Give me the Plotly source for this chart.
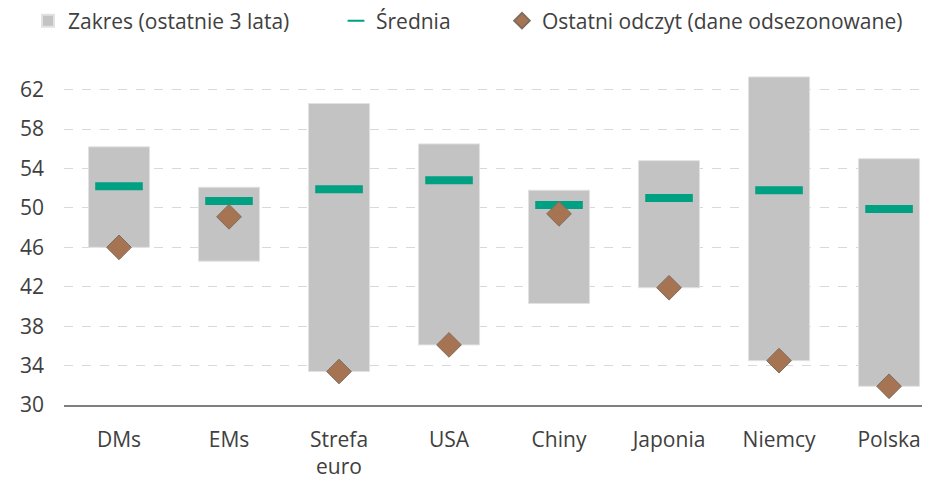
import plotly.graph_objects as go

categories = ['DMs', 'EMs', 'Strefa<br>euro', 'USA', 'Chiny', 'Japonia', 'Niemcy', 'Polska']
range_low = [46.0, 44.6, 33.4, 36.1, 40.3, 41.9, 34.5, 31.9]
range_high = [56.2, 52.1, 60.6, 56.5, 51.8, 54.8, 63.3, 55.0]
average = [52.2, 50.7, 51.9, 52.8, 50.3, 51.0, 51.8, 49.9]
latest = [46.0, 49.1, 33.4, 36.1, 49.4, 41.9, 34.5, 31.9]
y_ticks = [30, 34, 38, 42, 46, 50, 54, 58, 62]

FONT = 'Open Sans'
TXT = '#404040'
W, H = 930, 477

fig = go.Figure()

fig.add_trace(go.Bar(
    x=categories,
    y=[h - l for h, l in zip(range_high, range_low)],
    base=range_low,
    width=0.555,
    marker=dict(color='#c3c3c3', line=dict(color='#e2e2e2', width=1)),
    name='Zakres (ostatnie 3 lata)',
    legend='legend',
))

fig.add_trace(go.Scatter(
    x=categories,
    y=average,
    mode='markers',
    marker=dict(symbol='line-ew-open', size=34, color='#00a082',
                line=dict(color='#00a082', width=8)),
    name='Średnia',
    legend='legend2',
))

fig.add_trace(go.Scatter(
    x=categories,
    y=latest,
    mode='markers',
    marker=dict(symbol='diamond', size=19, color='#a67452',
                line=dict(color='#7d6d60', width=1)),
    name='Ostatni odczyt (dane odsezonowane)',
    legend='legend3',
))


def leg(px):
    return dict(
        xref='container', yref='container',
        x=px / W, y=1 - 13 / H,
        xanchor='left', yanchor='middle',
        font=dict(size=21, color=TXT),
        itemsizing='constant',
        bgcolor='rgba(0,0,0,0)',
    )


fig.update_layout(
    width=W,
    height=H,
    plot_bgcolor='white',
    paper_bgcolor='white',
    font=dict(family=FONT, size=21, color=TXT),
    margin=dict(l=56, r=0, t=62, b=80, autoexpand=False),
    showlegend=True,
    legend=leg(20),
    legend2=leg(328),
    legend3=leg(494),
    xaxis=dict(
        range=[-0.5, 7.445],
        showgrid=False,
        showline=True,
        linecolor='#7f7f7f',
        linewidth=1.5,
        ticks='',
        automargin=False,
        ticklabelstandoff=15,
        tickfont=dict(size=21, color=TXT),
    ),
    yaxis=dict(
        range=[30, 64],
        tickvals=y_ticks,
        showgrid=True,
        gridcolor='#d9d9d9',
        griddash='dash',
        gridwidth=1,
        zeroline=False,
        ticks='',
        automargin=False,
        ticklabelstandoff=19,
        tickfont=dict(size=21, color=TXT),
    ),
)

fig.write_html('out.html')
